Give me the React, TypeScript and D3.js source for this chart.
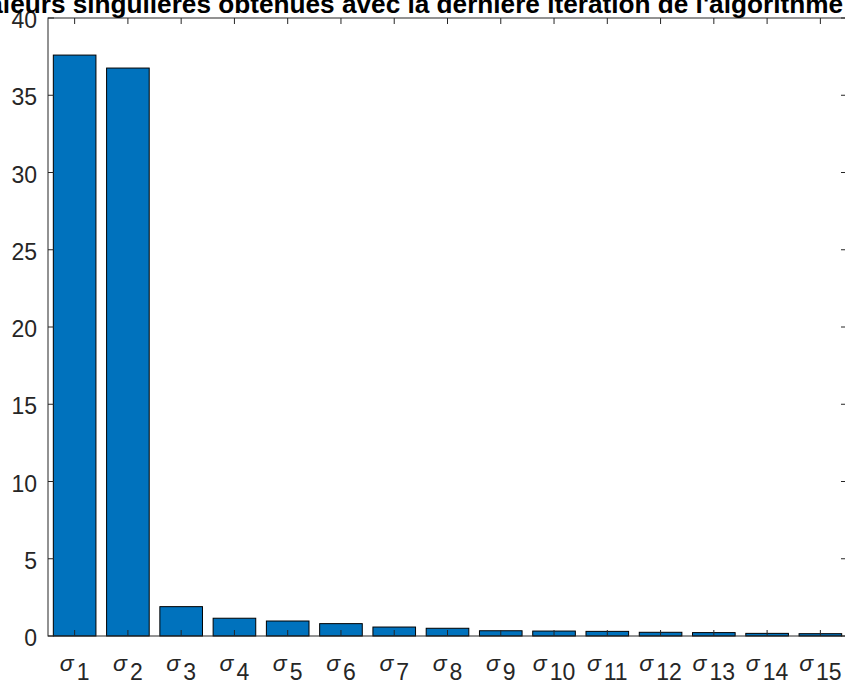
import { useEffect, useRef } from 'react'
import * as d3 from 'd3'

const indices = [1, 2, 3, 4, 5, 6, 7, 8, 9, 10, 11, 12, 13, 14, 15]
const values = [37.6, 36.76, 1.9, 1.15, 0.97, 0.8, 0.58, 0.5, 0.34, 0.32, 0.3, 0.24, 0.22, 0.17, 0.15]
const yTicks = [0, 5, 10, 15, 20, 25, 30, 35, 40]
const title = "Valeurs singulières obtenues avec la dernière itération de l'algorithme"

export default function App() {
  const svgRef = useRef<SVGSVGElement>(null)

  useEffect(() => {
    const svg = svgRef.current
    if (!svg) return
    const width = 845
    const height = 681
    const margin = { top: 18, right: -2, bottom: 45, left: 48 }
    const innerW = width - margin.left - margin.right
    const innerH = height - margin.top - margin.bottom
    const axisColor = '#262626'
    const font = 'Liberation Sans, Arial, Helvetica, sans-serif'

    d3.select(svg).selectAll('*').remove()
    const root = d3
      .select(svg)
      .attr('width', width)
      .attr('height', height)
      .append('g')
      .attr('transform', `translate(${margin.left},${margin.top})`)

    const x = d3.scaleLinear().domain([0.5, 15.5]).range([0, innerW])
    const y = d3.scaleLinear().domain([0, 40]).range([innerH, 0])
    const bw = (x(1.8) - x(1))

    // ── Bars ──────────────────────────────────────────────
    root
      .append('g')
      .selectAll('rect')
      .data(values)
      .join('rect')
      .attr('x', (_, i) => x(indices[i]) - bw / 2)
      .attr('width', bw)
      .attr('y', (d) => y(d))
      .attr('height', (d) => innerH - y(d))
      .attr('fill', '#0072BD')
      .attr('stroke', '#000')
      .attr('stroke-width', 1)

    // ── Box + inward ticks ────────────────────────────────
    root
      .append('rect')
      .attr('x', 0)
      .attr('y', 0)
      .attr('width', innerW)
      .attr('height', innerH)
      .attr('fill', 'none')
      .attr('stroke', axisColor)
      .attr('stroke-width', 1)

    const tl = 6
    const ticks = root.append('g').attr('stroke', axisColor).attr('stroke-width', 1)
    indices.forEach((i) => {
      ticks.append('line').attr('x1', x(i)).attr('x2', x(i)).attr('y1', innerH).attr('y2', innerH - tl)
      ticks.append('line').attr('x1', x(i)).attr('x2', x(i)).attr('y1', 0).attr('y2', tl)
    })
    yTicks.forEach((t) => {
      ticks.append('line').attr('x1', 0).attr('x2', tl).attr('y1', y(t)).attr('y2', y(t))
      ticks.append('line').attr('x1', innerW).attr('x2', innerW - tl).attr('y1', y(t)).attr('y2', y(t))
    })

    // ── Y labels ──────────────────────────────────────────
    root
      .append('g')
      .selectAll('text')
      .data(yTicks)
      .join('text')
      .attr('x', -11)
      .attr('y', (d) => y(d))
      .attr('dy', '0.44em')
      .attr('text-anchor', 'end')
      .attr('fill', axisColor)
      .attr('font-family', font)
      .attr('font-size', '23px')
      .text((d) => String(d))

    // ── X labels σ_i ─────────────────────────────────────
    const xl = root
      .append('g')
      .selectAll('text')
      .data(indices)
      .join('text')
      .attr('x', (d) => x(d))
      .attr('y', innerH + 35)
      .attr('text-anchor', 'middle')
      .attr('fill', axisColor)
      .attr('font-family', font)
      .attr('font-size', '23px')
    xl.append('tspan').attr('font-style', 'italic').text('σ')
    xl.append('tspan').attr('dx', 3).attr('dy', 9).text((d) => String(d))

    // ── Title (clipped on the left, as in the source figure) ──
    root
      .append('text')
      .attr('x', 843 - margin.left)
      .attr('y', -5)
      .attr('text-anchor', 'end')
      .attr('fill', '#000')
      .attr('font-family', font)
      .attr('font-weight', 'bold')
      .attr('font-size', '26.2px')
      .text(title)
  }, [])

  return (
    <div style={{ position: 'absolute', left: 0, top: 0, background: '#fff' }}>
      <svg ref={svgRef} style={{ display: 'block' }} />
    </div>
  )
}
